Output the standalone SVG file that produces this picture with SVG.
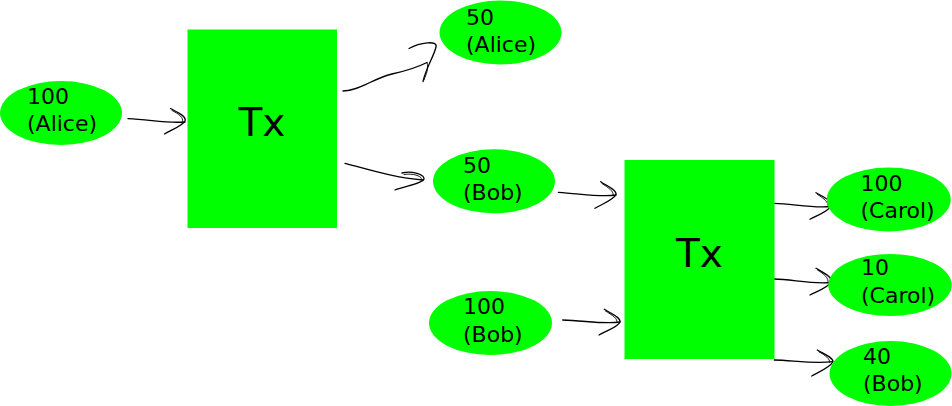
<svg xmlns="http://www.w3.org/2000/svg" width="952" height="406" viewBox="0 0 952 406">
  <style>
    .coin { fill: #00ff00; }
    .tx { fill: #00ff00; }
    .lbl { font-family: "DejaVu Sans", "Liberation Sans", sans-serif; font-size: 22px; fill: #000; }
    .big { font-family: "DejaVu Sans", "Liberation Sans", sans-serif; font-size: 39px; fill: #000; text-anchor: middle; }
    .pen { fill: none; stroke: #000; stroke-width: 1.3; stroke-linecap: round; stroke-linejoin: round; }
    .pen2 { fill: none; stroke: #000; stroke-width: 0.9; stroke-linecap: round; }
  </style>
  <rect width="952" height="406" fill="#ffffff"/>

  <!-- hand-drawn connectors -->
  <g id="connectors">
    <!-- 100 (Alice) -> first Tx -->
    <path class="pen" d="M128,118.7 C150,119.5 166,123.5 185,122"/>
    <path class="pen" d="M170.5,108.5 C177,112 187,116.5 185,121 C183,125.5 172,129.5 164.5,134"/>
    <path class="pen2" d="M172,110.5 C179,114 184,118 182.5,121.5"/>
    <!-- first Tx -> 50 (Alice) -->
    <path class="pen" d="M343,91 C360,90.5 372,79 392,74 C408,70.5 418,67 427,62.5"/>
    <path class="pen" d="M409,48.5 C420,42.5 438,40 436,47 C434,56 426,68 423,81.5"/>
    <path class="pen2" d="M427,62.5 C429,69 426,74 424,80"/>
    <!-- first Tx -> 50 (Bob) -->
    <path class="pen" d="M345,163.3 C370,170 396,178 423,180"/>
    <path class="pen" d="M402,173 C412,170.5 424.5,174.5 424,179 C423,183.5 405,186 395,190"/>
    <path class="pen2" d="M404,174.5 C413,173 421,176 421.5,178.5"/>
    <!-- 50 (Bob) -> second Tx -->
    <path class="pen" d="M558.3,192.3 C580,193.5 600,197.5 616,195"/>
    <path class="pen" d="M600.7,181.7 C607,186 617,190 616,194.5 C614,199.5 603,203.5 595,208.3"/>
    <path class="pen2" d="M602,183.5 C608,187.5 614,191 613,195"/>
    <!-- 100 (Bob) -> second Tx -->
    <path class="pen" d="M562.7,320 C584,320.5 604,324.5 620,322"/>
    <path class="pen" d="M604.3,309.3 C611,313.5 621,317.5 620,322 C618,327 607,330.5 599,335"/>
    <path class="pen2" d="M605.5,311 C612,315 618,318.5 617,322.5"/>
    <!-- second Tx -> 100 (Carol) -->
    <path class="pen" d="M774.3,203.3 C792,203.5 812,208.5 831,206.5"/>
    <path class="pen" d="M816,192.7 C823,197 833,201 831,206 C829,211 818,215 810,219.3"/>
    <path class="pen2" d="M817.5,194.5 C824,198.5 829,202.5 828,206.5"/>
    <!-- second Tx -> 10 (Carol) -->
    <path class="pen" d="M774.3,279 C792,279.3 812,284.5 831,282.5"/>
    <path class="pen" d="M816,268.3 C823,272.5 833,277 831,282 C829,287 818,291 810,295"/>
    <path class="pen2" d="M817.5,270 C824,274 829,278 828,282.5"/>
    <!-- second Tx -> 40 (Bob) -->
    <path class="pen" d="M774.3,360 C792,360.3 813,364 832.7,361.7"/>
    <path class="pen" d="M817.3,350 C824,354 834.5,358 832.7,362 C830.5,367 820,371.5 811.7,376"/>
    <path class="pen2" d="M819,351.8 C825.5,355.5 830.5,359 829.5,362.5"/>
  </g>

  <g id="coin-alice-100">
    <ellipse class="coin" cx="61" cy="113" rx="61" ry="32"/>
    <text class="lbl" x="27" y="103.5">100</text>
    <text class="lbl" x="27" y="131">(Alice)</text>
  </g>

  <g id="tx-1">
    <rect class="tx" x="187.5" y="29.5" width="149.5" height="198.5"/>
    <text class="big" x="262" y="136">Tx</text>
  </g>

  <g id="coin-alice-50">
    <ellipse class="coin" cx="500.5" cy="32.5" rx="61" ry="32"/>
    <text class="lbl" x="466" y="24.5">50</text>
    <text class="lbl" x="466" y="52">(Alice)</text>
  </g>

  <g id="coin-bob-50">
    <ellipse class="coin" cx="494" cy="181.3" rx="61" ry="32"/>
    <text class="lbl" x="463" y="172.5">50</text>
    <text class="lbl" x="463" y="200">(Bob)</text>
  </g>

  <g id="coin-bob-100">
    <ellipse class="coin" cx="490.5" cy="323" rx="61.5" ry="32"/>
    <text class="lbl" x="463" y="314">100</text>
    <text class="lbl" x="463" y="341.5">(Bob)</text>
  </g>

  <g id="tx-2">
    <rect class="tx" x="624.5" y="160" width="150" height="199"/>
    <text class="big" x="699.5" y="266.5">Tx</text>
  </g>

  <g id="coin-carol-100">
    <ellipse class="coin" cx="888.7" cy="199.5" rx="62" ry="32"/>
    <text class="lbl" x="860.5" y="190.5">100</text>
    <text class="lbl" x="860.5" y="218">(Carol)</text>
  </g>

  <g id="coin-carol-10">
    <ellipse class="coin" cx="890" cy="285" rx="61.7" ry="31"/>
    <text class="lbl" x="861" y="275">10</text>
    <text class="lbl" x="861" y="302.5">(Carol)</text>
  </g>

  <g id="coin-bob-40">
    <ellipse class="coin" cx="890.5" cy="373.5" rx="61" ry="32.5"/>
    <text class="lbl" x="863" y="364">40</text>
    <text class="lbl" x="863" y="391">(Bob)</text>
  </g>
</svg>
